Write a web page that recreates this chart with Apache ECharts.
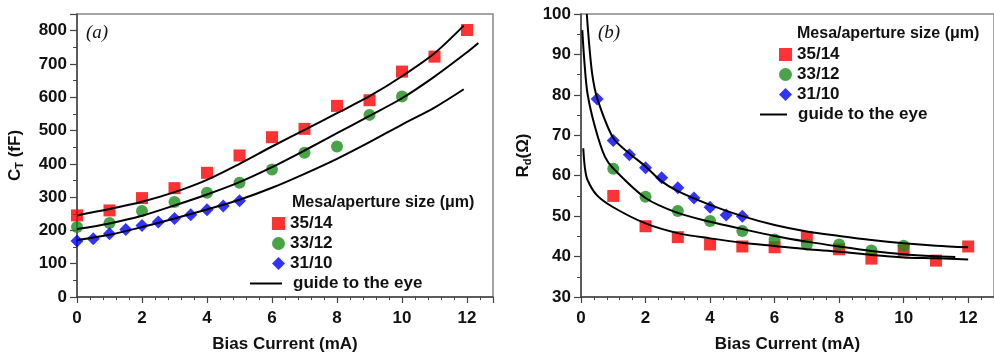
<!DOCTYPE html>
<html>
<head>
    <meta charset="utf-8">
    <title>C_T and R_d vs bias current</title>
    <script src="https://cdn.jsdelivr.net/npm/echarts@6/dist/echarts.min.js"></script>
    <style>
        body, html { margin: 0; padding: 0; background: #fff; }
        #main { width: 994px; height: 358px; }
    </style>
</head>
<body>
    <div id="main"></div>
    <script>
        // (a) capacitance C_T (fF)
        var ctRedX = [0, 1, 2, 3, 4, 5, 6, 7, 8, 9, 10, 11, 12];
        var ctRed = [245, 260, 297, 327, 373, 425, 480, 505, 574, 591, 677, 722, 802];
        var ctGreenX = [0, 1, 2, 3, 4, 5, 6, 7, 8, 9, 10];
        var ctGreen = [210, 222, 258, 285, 313, 343, 383, 433, 452, 547, 602];
        var ctBlueX = [0, 0.5, 1, 1.5, 2, 2.5, 3, 3.5, 4, 4.5, 5];
        var ctBlue = [168, 175, 190, 203, 215, 225, 236, 247, 262, 273, 289];

        // guide curves (a)
        var gTopX = [0, 1, 2, 3, 4, 5, 6, 7, 8, 9, 10, 11, 11.9];
        var gTop = [245, 264, 286, 315, 352, 400, 452, 502, 552, 603, 663, 732, 815];
        var gMidX = [0, 1, 2, 3, 4, 5, 6, 7, 8, 9, 10, 11, 12, 12.35];
        var gMid = [204, 221, 244, 275, 308, 345, 390, 440, 492, 544, 597, 662, 735, 763];
        var gBotX = [0, 1, 2, 3, 4, 5, 6, 7, 8, 9, 10, 11, 11.9];
        var gBot = [171, 187, 210, 236, 263, 292, 328, 370, 415, 465, 518, 569, 624];

        // (b) differential resistance R_d (ohm)
        var rdRedX = [1, 2, 3, 4, 5, 6, 7, 8, 9, 10, 11, 12];
        var rdRed = [55, 47.5, 44.8, 43, 42.5, 42.3, 44.8, 41.8, 39.5, 41.5, 39, 42.5];
        var rdGreenX = [1, 2, 3, 4, 5, 6, 7, 8, 9, 10];
        var rdGreen = [61.7, 54.8, 51.3, 48.8, 46.3, 44.2, 43, 43, 41.5, 42.7];
        var rdBlueX = [0.5, 1, 1.5, 2, 2.5, 3, 3.5, 4, 4.5, 5];
        var rdBlue = [79, 68.7, 65.2, 62, 59.5, 57, 54.5, 52.2, 50.3, 50];

        // guide curves (b)
        var rTopX = [0.18, 0.25, 0.35, 0.5, 1, 1.5, 2, 2.5, 3, 4, 5, 6, 7, 8, 9, 10, 11, 12];
        var rTop = [100, 92.8, 85, 79.2, 69.3, 65.5, 62.3, 58.6, 56.2, 52.8, 50, 47.8, 46.2, 45.1, 44.1, 43.3, 42.7, 42.3];
        var rMidX = [0.04, 0.1, 0.2, 0.43, 0.74, 1, 2, 3, 4, 5, 6, 7, 8, 9, 10, 11, 11.6];
        var rMid = [96, 88.7, 80.4, 72.2, 64.7, 61.8, 54.5, 50.8, 48.6, 46.8, 45.1, 43.7, 42.5, 41.4, 40.6, 40.1, 39.9];
        var rBotX = [0.07, 0.12, 0.2, 0.49, 1, 2, 3, 4, 5, 6, 7, 8, 9, 10, 11, 12];
        var rBot = [66.8, 62, 59, 55.2, 52.2, 48.2, 45.8, 44.5, 43.4, 42.6, 41.8, 41.2, 40.4, 39.8, 39.6, 39.3];

        var sizeNames = ['35/14', '33/12', '31/10'];
        var guideName = 'guide to the eye';
        var legendTitle = 'Mesa/aperture size (\u03bcm)';

        function pairs(xs, ys) {
            return xs.map(function (x, i) { return [x, ys[i]]; });
        }

        var FONT = '"Liberation Sans", Arial, sans-serif';
        var RED = '#ff0000', GREEN = '#1c8c1c', BLUE = '#0000ff';

        function xAx(idx) {
            return {
                type: 'value', gridIndex: idx, min: 0, max: 12.8, interval: 2,
                name: 'Bias Current (mA)', nameLocation: 'middle', nameGap: 39,
                nameTextStyle: { fontFamily: FONT, fontWeight: 'bold', fontSize: 17, color: '#111' },
                axisLine: { lineStyle: { color: '#444', width: 1.5 } },
                axisTick: { length: 6, lineStyle: { color: '#444', width: 1.2 } },
                minorTick: { show: true, splitNumber: 5, length: 3, lineStyle: { color: '#444', width: 1 } },
                axisLabel: { fontFamily: FONT, fontWeight: 'bold', fontSize: 17, color: '#111', margin: 13, showMaxLabel: false },
                splitLine: { show: false }
            };
        }

        function scatter(name, xi, data, symbol, size, color) {
            return {
                name: name, type: 'scatter', xAxisIndex: xi, yAxisIndex: xi,
                symbol: symbol, symbolSize: size, itemStyle: { color: color },
                data: data, z: 2
            };
        }

        function guide(xi, data) {
            return {
                name: guideName, type: 'line', xAxisIndex: xi, yAxisIndex: xi,
                showSymbol: false, symbol: 'none', smooth: 0.3,
                lineStyle: { color: '#000', width: 2 }, itemStyle: { color: '#000' },
                data: data, z: 3
            };
        }

        var legendText = { fontFamily: FONT, fontWeight: 'bold', fontSize: 17, color: '#111', lineHeight: 19 };
        var titleFont = { fontFamily: FONT, fontWeight: 'bold', fontSize: 16, color: '#111' };
        var panelFont = { fontFamily: '"Liberation Serif", serif', fontStyle: 'italic', fontWeight: 'normal', fontSize: 19, color: '#111' };

        var chart = echarts.init(document.getElementById('main'));
        chart.setOption({
            animation: false,
            backgroundColor: '#fff',
            title: [
                { text: '(a)', left: 86, top: 23, padding: 0, textStyle: panelFont },
                { text: '(b)', left: 598, top: 23, padding: 0, textStyle: panelFont },
                { text: legendTitle, left: 292, top: 195, padding: 0, textStyle: titleFont },
                { text: legendTitle, left: 797, top: 26, padding: 0, textStyle: titleFont }
            ],
            legend: [
                { data: sizeNames, orient: 'vertical', left: 272, top: 214, padding: 0,
                  itemWidth: 13, itemHeight: 13, itemGap: 1, textStyle: legendText },
                { data: [{ name: guideName, icon: 'rect' }], orient: 'vertical', left: 250, top: 274, padding: 0,
                  itemWidth: 32, itemHeight: 2, symbolKeepAspect: false,
                  textStyle: Object.assign({ padding: [0, 0, 0, 6] }, legendText) },
                { data: sizeNames, orient: 'vertical', left: 779, top: 45, padding: 0,
                  itemWidth: 13, itemHeight: 13, itemGap: 1, textStyle: legendText },
                { data: [{ name: guideName, icon: 'rect' }], orient: 'vertical', left: 760, top: 105, padding: 0,
                  itemWidth: 27, itemHeight: 2, symbolKeepAspect: false,
                  textStyle: Object.assign({ padding: [0, 0, 0, 6] }, legendText) }
            ],
            grid: [
                { left: 77, top: 14, width: 416, height: 285, show: true, borderColor: '#888', borderWidth: 1.5 },
                { left: 581, top: 14, right: -6, height: 283, show: true, borderColor: '#888', borderWidth: 1.5 }
            ],
            xAxis: [xAx(0), xAx(1)],
            yAxis: [
                {
                    type: 'value', gridIndex: 0, min: 0, max: 850, interval: 100,
                    name: '{m|C}{s|T}{m| (fF)}', nameLocation: 'middle', nameGap: 52,
                    nameTextStyle: {
                        rich: {
                            m: { fontFamily: FONT, fontWeight: 'bold', fontSize: 17, color: '#111', lineHeight: 20 },
                            s: { fontFamily: FONT, fontWeight: 'bold', fontSize: 11, color: '#111', verticalAlign: 'bottom', lineHeight: 20 }
                        }
                    },
                    axisLine: { lineStyle: { color: '#444', width: 1.5 } },
                    axisTick: { length: 7, lineStyle: { color: '#444', width: 1.2 } },
                    minorTick: { show: true, splitNumber: 2, length: 4, lineStyle: { color: '#444', width: 1 } },
                    axisLabel: { fontFamily: FONT, fontWeight: 'bold', fontSize: 17, color: '#111', margin: 10, showMaxLabel: false },
                    splitLine: { show: false }
                },
                {
                    type: 'value', gridIndex: 1, min: 30, max: 100, interval: 10,
                    name: '{m|R}{s|d}{m|(\u03a9)}', nameLocation: 'middle', nameGap: 48,
                    nameTextStyle: {
                        rich: {
                            m: { fontFamily: FONT, fontWeight: 'bold', fontSize: 17, color: '#111', lineHeight: 20 },
                            s: { fontFamily: FONT, fontWeight: 'bold', fontSize: 11, color: '#111', verticalAlign: 'bottom', lineHeight: 20 }
                        }
                    },
                    axisLine: { lineStyle: { color: '#444', width: 1.5 } },
                    axisTick: { length: 7, lineStyle: { color: '#444', width: 1.2 } },
                    minorTick: { show: true, splitNumber: 2, length: 4, lineStyle: { color: '#444', width: 1 } },
                    axisLabel: { fontFamily: FONT, fontWeight: 'bold', fontSize: 17, color: '#111', margin: 10 },
                    splitLine: { show: false }
                }
            ],
            series: [
                scatter(sizeNames[0], 0, pairs(ctRedX, ctRed), 'rect', 12, RED),
                scatter(sizeNames[1], 0, pairs(ctGreenX, ctGreen), 'circle', 12, GREEN),
                scatter(sizeNames[2], 0, pairs(ctBlueX, ctBlue), 'diamond', 13, BLUE),
                guide(0, pairs(gTopX, gTop)),
                guide(0, pairs(gMidX, gMid)),
                guide(0, pairs(gBotX, gBot)),
                scatter(sizeNames[0], 1, pairs(rdRedX, rdRed), 'rect', 12, RED),
                scatter(sizeNames[1], 1, pairs(rdGreenX, rdGreen), 'circle', 12, GREEN),
                scatter(sizeNames[2], 1, pairs(rdBlueX, rdBlue), 'diamond', 13, BLUE),
                guide(1, pairs(rTopX, rTop)),
                guide(1, pairs(rMidX, rMid)),
                guide(1, pairs(rBotX, rBot))
            ]
        });

        window.addEventListener('resize', function () {
            chart.resize();
        });
    </script>
</body>
</html>
